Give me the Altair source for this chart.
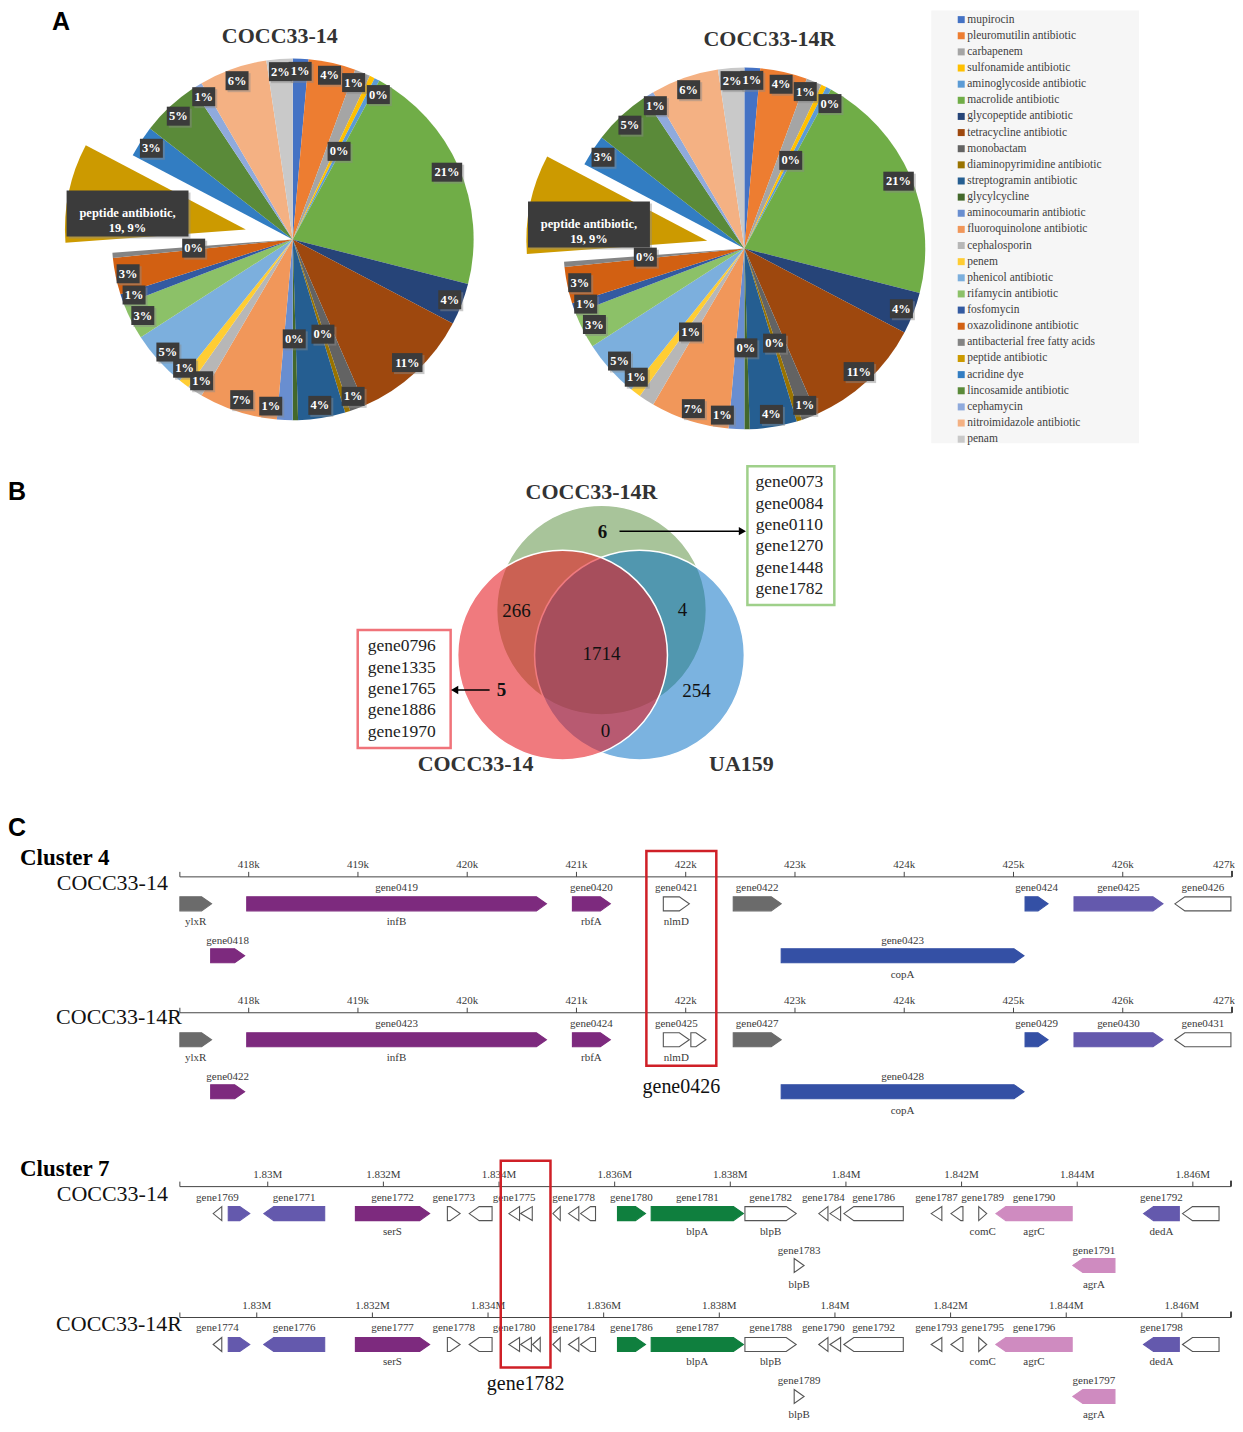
import math
import pandas as pd
import altair as alt

SERIF = "Liberation Serif"
SANS = "Liberation Sans"
INK = "#333333"
W_TOTAL = 1227

# ====================== Panel A data ======================
classes = ["mupirocin", "pleuromutilin antibiotic", "carbapenem", "sulfonamide antibiotic",
           "aminoglycoside antibiotic", "macrolide antibiotic", "glycopeptide antibiotic",
           "tetracycline antibiotic", "monobactam", "diaminopyrimidine antibiotic",
           "streptogramin antibiotic", "glycylcycline", "aminocoumarin antibiotic",
           "fluoroquinolone antibiotic", "cephalosporin", "penem", "phenicol antibiotic",
           "rifamycin antibiotic", "fosfomycin", "oxazolidinone antibiotic",
           "antibacterial free fatty acids", "peptide antibiotic", "acridine dye",
           "lincosamide antibiotic", "cephamycin", "nitroimidazole antibiotic", "penam"]
class_colors = ["#4472C4", "#ED7D31", "#A5A5A5", "#FFC000", "#5B9BD5", "#70AD47",
                "#264478", "#9E480E", "#636363", "#997300", "#255E91", "#43682B",
                "#698ED0", "#F1975A", "#B7B7B7", "#FFCD33", "#7CAFDD", "#8CC168",
                "#335AA1", "#D26012", "#848484", "#CC9A00", "#327DC2", "#5A8A39",
                "#8FAADC", "#F4B183", "#C9C9C9"]
counts_cocc33_14 = [3, 9, 3, 1, 1, 45, 8, 23, 3, 1, 9, 1, 3, 15, 3, 2, 11, 7, 2, 7, 1, 19, 6, 11, 2, 13, 5]
counts_cocc33_14R = [3, 9, 3, 1, 1, 45, 8, 23, 3, 1, 9, 1, 3, 15, 3, 2, 11, 7, 2, 7, 1, 19, 6, 11, 2, 13, 5]
pie_titles = ["COCC33-14", "COCC33-14R"]
exploded_class = "peptide antibiotic"

# ====================== Panel B data ======================
venn_sets = ["COCC33-14R", "UA159", "COCC33-14"]
# regions: 14R only, 14&14R, 14R&UA159, all three, 14 only, UA159 only, 14&UA159
venn_region_counts = [6, 266, 4, 1714, 5, 254, 0]
genes_only_14R = ["gene0073", "gene0084", "gene0110", "gene1270", "gene1448", "gene1782"]
genes_only_14 = ["gene0796", "gene1335", "gene1765", "gene1886", "gene1970"]

# ====================== Panel C data ======================
c4_ticks = [418000, 419000, 420000, 421000, 422000, 423000, 424000, 425000, 426000, 427000]
c4_tick_labels = ["418k", "419k", "420k", "421k", "422k", "423k", "424k", "425k", "426k", "427k"]

c4_14_names = ["", "gene0418", "gene0419", "gene0420", "gene0421", "gene0422", "gene0423", "gene0424", "gene0425", "gene0426"]
c4_14_symbols = ["ylxR", "", "infB", "rbfA", "nlmD", "", "copA", "", "", ""]
c4_14_start = [417370, 417652, 417982, 420963, 421795, 422435, 422874, 425106, 425554, 426477]
c4_14_end = [417660, 417963, 420725, 421310, 422033, 422874, 425096, 425316, 426368, 426990]
c4_14_strand = "+++++++++-"
c4_14_row = [1, 2, 1, 1, 1, 1, 2, 1, 1, 1]
c4_14_kind = ["grey", "purple", "purple", "purple", "white", "grey", "blue", "blue", "violet", "white"]

c4_14R_names = ["", "gene0422", "gene0423", "gene0424", "gene0425", "", "gene0427", "gene0428", "gene0429", "gene0430", "gene0431"]
c4_14R_symbols = ["ylxR", "", "infB", "rbfA", "nlmD", "", "", "copA", "", "", ""]
c4_14R_start = [417370, 417652, 417982, 420963, 421795, 422047, 422435, 422874, 425106, 425554, 426477]
c4_14R_end = [417660, 417963, 420725, 421310, 422033, 422185, 422874, 425096, 425316, 426368, 426990]
c4_14R_strand = "++++++++++-"
c4_14R_row = [1, 2, 1, 1, 1, 1, 1, 2, 1, 1, 1]
c4_14R_kind = ["grey", "purple", "purple", "purple", "white", "white", "grey", "blue", "blue", "violet", "white"]

c7_ticks = [1830000, 1832000, 1834000, 1836000, 1838000, 1840000, 1842000, 1844000, 1846000]
c7_tick_labels = ["1.83M", "1.832M", "1.834M", "1.836M", "1.838M", "1.84M", "1.842M", "1.844M", "1.846M"]

c7_14_names = ["gene1769", "", "gene1771", "gene1772", "gene1773", "", "gene1775", "", "", "gene1778", "",
               "gene1780", "gene1781", "gene1782", "gene1783", "gene1784", "", "gene1786", "gene1787", "",
               "gene1789", "gene1790", "gene1791", "gene1792", ""]
c7_14_symbols = ["", "", "", "serS", "", "", "", "", "", "", "", "", "blpA", "blpB", "blpB", "", "", "", "",
                 "", "comC", "agrC", "agrA", "dedA", ""]
c7_14_start = [1829056, 1829317, 1829931, 1831516, 1833107, 1833484, 1834170, 1834373, 1834931, 1835202,
               1835410, 1836049, 1836632, 1838253, 1839105, 1839530, 1839724, 1839964, 1841474, 1841816,
               1842297, 1842593, 1843925, 1845147, 1845821]
c7_14_end = [1829205, 1829689, 1830985, 1832800, 1833327, 1833880, 1834355, 1834575, 1835059, 1835380,
             1835669, 1836533, 1838227, 1839140, 1839276, 1839689, 1839908, 1840992, 1841659, 1842024,
             1842435, 1843913, 1844653, 1845766, 1846453]
c7_14_strand = "-+-++------++++-----+----"
c7_14_row = [1, 1, 1, 1, 1, 1, 1, 1, 1, 1, 1, 1, 1, 1, 2, 1, 1, 1, 1, 1, 1, 1, 2, 1, 1]
c7_14_kind = ["white", "violet", "violet", "purple", "white", "white", "white", "white", "white", "white",
              "white", "green", "green", "white", "white", "white", "white", "white", "white", "white",
              "white", "pink", "pink", "violet", "white"]

c7_14R_names = ["gene1774", "", "gene1776", "gene1777", "gene1778", "", "gene1780", "", "", "", "gene1784", "",
                "gene1786", "gene1787", "gene1788", "gene1789", "gene1790", "", "gene1792", "gene1793", "",
                "gene1795", "gene1796", "gene1797", "gene1798", ""]
c7_14R_symbols = ["", "", "", "serS", "", "", "", "", "", "", "", "", "", "blpA", "blpB", "blpB", "", "", "",
                  "", "", "comC", "agrC", "agrA", "dedA", ""]
c7_14R_start = [1829246, 1829507, 1830121, 1831706, 1833297, 1833674, 1834360, 1834563, 1834770, 1835121,
                1835392, 1835600, 1836239, 1836822, 1838443, 1839295, 1839720, 1839914, 1840154, 1841664,
                1842006, 1842487, 1842783, 1844115, 1845337, 1846011]
c7_14R_end = [1829395, 1829879, 1831175, 1832990, 1833517, 1834070, 1834545, 1834750, 1834903, 1835249,
              1835570, 1835859, 1836723, 1838417, 1839330, 1839466, 1839879, 1840098, 1841182, 1841849,
              1842214, 1842625, 1844103, 1844843, 1845956, 1846643]
c7_14R_strand = "-+-++-------++++-----+----"
c7_14R_row = [1, 1, 1, 1, 1, 1, 1, 1, 1, 1, 1, 1, 1, 1, 1, 2, 1, 1, 1, 1, 1, 1, 1, 2, 1, 1]
c7_14R_kind = ["white", "violet", "violet", "purple", "white", "white", "white", "white", "white", "white",
               "white", "white", "green", "green", "white", "white", "white", "white", "white", "white",
               "white", "white", "pink", "pink", "violet", "white"]

KIND_FILL = {"grey": "#6b6b6b", "purple": "#7d2a7e", "blue": "#3450a5", "violet": "#6459ad",
             "green": "#0f7f3e", "pink": "#cf8bc0", "white": "#ffffff"}

# ====================== Panel A chart (one layered row) ======================
H_A = 442
color_scale = alt.Scale(domain=classes, range=class_colors)
PIE_R = 181
LABEL_SHIFT_DEG = {"carbapenem": -1.5, "sulfonamide antibiotic": 4.5, "penem": 3.0,
                   "aminocoumarin antibiotic": 5.0, "peptide antibiotic": -4.0}
shift_expr = " : ".join(f"datum.cls == '{c}' ? {math.radians(d):.5f}"
                        for c, d in LABEL_SHIFT_DEG.items()) + " : 0"


def pie_layer(counts, title, cx, cy, explode, title_px, letter=None, inner_extra=()):
    R = PIE_R
    df = pd.DataFrame({"cls": classes, "n": counts, "k": list(range(len(classes)))})
    xs = alt.Scale(domain=[-cx, W_TOTAL - cx], nice=False, zero=False)
    ys = alt.Scale(domain=[-(H_A - cy), cy], nice=False, zero=False)
    extra = "[" + ",".join(f"'{c}'" for c in inner_extra) + "]"
    base = (
        alt.Chart(df)
        .transform_joinaggregate(tot="sum(n)")
        .transform_window(cum="sum(n)", sort=[alt.SortField("k", order="ascending")], frame=[None, 0])
        .transform_calculate(t1="2*PI*datum.cum/datum.tot")
        .transform_calculate(t0="2*PI*(datum.cum-datum.n)/datum.tot")
        .transform_calculate(mid="(datum.t0+datum.t1)/2")
        .transform_calculate(pep=f"datum.cls == '{exploded_class}'")
        .transform_calculate(pct="format(datum.n/datum.tot, '.0%')")
        .transform_calculate(ex=f"datum.pep ? {explode}*sin(datum.mid) : 0")
        .transform_calculate(ey=f"datum.pep ? {explode}*cos(datum.mid) : 0")
        .transform_calculate(inner=f"(datum.n <= 1 && datum.cls != 'sulfonamide antibiotic') || indexof({extra}, datum.cls) >= 0")
        .transform_calculate(lr=f"datum.pep ? {0.66 * R} : (datum.inner ? {0.55 * R} : {0.93 * R})")
        .transform_calculate(la=shift_expr)
        .transform_calculate(lab="datum.pep ? (datum.cls + ',\\n' + datum.n + ', ' + datum.pct) : datum.pct")
        .transform_calculate(bw="datum.pep ? 122 : 8 + 7.5*length(datum.pct)")
        .transform_calculate(bh="datum.pep ? 46 : 19")
        .transform_calculate(lx="datum.lr*sin(datum.mid + datum.la) + datum.ex")
        .transform_calculate(ly="datum.lr*cos(datum.mid + datum.la) + datum.ey")
        .transform_calculate(bx0="datum.lx - datum.bw/2")
        .transform_calculate(bx1="datum.lx + datum.bw/2")
        .transform_calculate(by0="datum.ly - datum.bh/2")
        .transform_calculate(by1="datum.ly + datum.bh/2")
    )
    arcs = base.mark_arc(outerRadius=R).encode(
        x=alt.X("ex:Q", scale=xs, axis=None),
        y=alt.Y("ey:Q", scale=ys, axis=None),
        theta=alt.Theta("t0:Q", scale=None, stack=False),
        theta2=alt.Theta2("t1:Q"),
        color=alt.Color("cls:N", scale=color_scale, legend=None),
    )
    shadow = base.mark_rect(color="#8a8a8a", opacity=0.45, xOffset=2, x2Offset=2, yOffset=2, y2Offset=2).encode(
        x=alt.X("bx0:Q", scale=xs, axis=None), x2="bx1:Q",
        y=alt.Y("by0:Q", scale=ys, axis=None), y2="by1:Q",
    )
    boxes = base.mark_rect(color="#3b3b3b").encode(
        x=alt.X("bx0:Q", scale=xs, axis=None), x2="bx1:Q",
        y=alt.Y("by0:Q", scale=ys, axis=None), y2="by1:Q",
    )
    labels = base.mark_text(font=SERIF, fontSize=12.5, fontWeight="bold", color="white",
                            lineBreak="\n", baseline="middle", align="center").encode(
        x=alt.X("lx:Q", scale=xs, axis=None),
        y=alt.Y("ly:Q", scale=ys, axis=None),
        text="lab:N",
    )
    ttl = alt.Chart(pd.DataFrame({"t": [title]})).mark_text(
        font=SERIF, fontSize=22, fontWeight="bold", color=INK, baseline="middle").encode(
        text="t:N", x=alt.value(title_px[0]), y=alt.value(title_px[1]))
    layers = [arcs, shadow, boxes, labels, ttl]
    if letter:
        layers.append(alt.Chart(pd.DataFrame({"t": [letter[0]]})).mark_text(
            font=SANS, fontSize=25, fontWeight="bold", color="black", align="left", baseline="middle").encode(
            text="t:N", x=alt.value(letter[1]), y=alt.value(letter[2])))
    return alt.layer(*layers)


pie1 = pie_layer(counts_cocc33_14, pie_titles[0], 285, 231, 48, (272, 27), ("A", 44, 13))
pie2 = pie_layer(counts_cocc33_14R, pie_titles[1], 737, 240, 38, (762, 30), inner_extra=("cephalosporin",))

LEG_X = 922
leg_df = pd.DataFrame({"cls": classes})
leg_y = alt.Y("cls:N", sort=classes, scale=alt.Scale(type="point", padding=0.684), axis=None)
leg_bg = alt.Chart(pd.DataFrame({"a": [0]})).mark_rect(color="#f6f6f6").encode(
    x=alt.value(LEG_X + 2), x2=alt.value(LEG_X + 210), y=alt.value(2), y2=alt.value(435))
leg_sq = alt.Chart(leg_df).mark_square(size=49, opacity=1).encode(
    y=leg_y, x=alt.value(LEG_X + 32), color=alt.Color("cls:N", scale=color_scale, legend=None))
leg_tx = alt.Chart(leg_df).mark_text(font=SERIF, fontSize=11.5, color="#404040", align="left",
                                     baseline="middle").encode(y=leg_y, x=alt.value(LEG_X + 38), text="cls:N")
legend = alt.layer(leg_bg, leg_sq, leg_tx)

row_a = alt.layer(pie1, pie2, legend).resolve_scale(x="independent", y="independent").properties(
    width=W_TOTAL, height=H_A)

# ====================== Panel B chart ======================
VENN_R = 105
VENN_CIRCLE = {"COCC33-14R": (602, 610, "#6e9d57", 0.60),
               "UA159": (640, 655, "#016dc3", 0.52),
               "COCC33-14": (563, 655, "#e51a21", 0.58)}
VENN_SET_LABEL_POS = {"COCC33-14R": (592, 492), "UA159": (742, 764), "COCC33-14": (476, 764)}
VENN_REGION_POS = [(603, 532), (517, 611), (683, 610), (602, 654), (502, 690), (697, 691), (606, 731)]
VENN_REGION_BOLD = [True, False, False, False, True, False, False]

vx = alt.Scale(domain=[8, 8 + W_TOTAL], nice=False, zero=False)
vy = alt.Scale(domain=[450, 790], reverse=True, nice=False, zero=False)


def txt(df, xs, ys, **mark):
    return alt.Chart(df).mark_text(**mark).encode(
        x=alt.X("x:Q", scale=xs, axis=None), y=alt.Y("y:Q", scale=ys, axis=None), text="t:N")


circ_df = pd.DataFrame([{"set": s, "cx": VENN_CIRCLE[s][0], "cy": VENN_CIRCLE[s][1],
                         "col": VENN_CIRCLE[s][2], "op": VENN_CIRCLE[s][3], "z": i}
                        for i, s in enumerate(venn_sets)])
circles = alt.Chart(circ_df).mark_circle(size=(2 * VENN_R) ** 2, opacity=1, stroke="white",
                                         strokeWidth=1.5).encode(
    x=alt.X("cx:Q", scale=vx, axis=None), y=alt.Y("cy:Q", scale=vy, axis=None),
    fill=alt.Fill("col:N", scale=None), fillOpacity=alt.FillOpacity("op:Q", scale=None),
    order=alt.Order("z:Q"))

set_lab = pd.DataFrame([{"t": s, "x": VENN_SET_LABEL_POS[s][0], "y": VENN_SET_LABEL_POS[s][1]} for s in venn_sets])
reg_df = pd.DataFrame([{"t": str(c), "x": p[0], "y": p[1], "b": b}
                       for c, p, b in zip(venn_region_counts, VENN_REGION_POS, VENN_REGION_BOLD)])
list14R = pd.DataFrame({"t": genes_only_14R, "x": [790] * len(genes_only_14R),
                        "y": [482 + 21.4 * i for i in range(len(genes_only_14R))]})
list14 = pd.DataFrame({"t": genes_only_14, "x": [402] * len(genes_only_14),
                       "y": [646 + 21.5 * i for i in range(len(genes_only_14))]})
box_df = pd.DataFrame({"x0": [748, 358], "x1": [835, 451], "y0": [466, 630], "y1": [605, 748],
                       "c": ["#9fd08a", "#f0737a"]})
boxes_v = alt.Chart(box_df).mark_rect(fillOpacity=0, strokeWidth=2.5).encode(
    x=alt.X("x0:Q", scale=vx, axis=None), x2="x1:Q", y=alt.Y("y0:Q", scale=vy, axis=None), y2="y1:Q",
    stroke=alt.Stroke("c:N", scale=None))
arrow_df = pd.DataFrame({"x0": [620, 458], "x1": [740, 490], "y": [531, 690]})
arrow_lines = alt.Chart(arrow_df).mark_rule(color="black", strokeWidth=1.5).encode(
    x=alt.X("x0:Q", scale=vx, axis=None), x2="x1:Q", y=alt.Y("y:Q", scale=vy, axis=None))
head_df = pd.DataFrame({"x": [743, 455], "y": [531, 690], "s": ["triangle-right", "triangle-left"]})
arrow_heads = alt.Chart(head_df).mark_point(filled=True, size=70, color="black", opacity=1).encode(
    x=alt.X("x:Q", scale=vx, axis=None), y=alt.Y("y:Q", scale=vy, axis=None),
    shape=alt.Shape("s:N", scale=None))

venn = alt.layer(
    circles, boxes_v, arrow_lines, arrow_heads,
    txt(set_lab, vx, vy, font=SERIF, fontSize=22, fontWeight="bold", color=INK, baseline="middle"),
    txt(reg_df[reg_df.b], vx, vy, font=SERIF, fontSize=19, fontWeight="bold", color="#111", baseline="middle"),
    txt(reg_df[~reg_df.b], vx, vy, font=SERIF, fontSize=19, color="#111", baseline="middle"),
    txt(list14R, vx, vy, font=SERIF, fontSize=17.5, color="#222", baseline="middle"),
    txt(list14, vx, vy, font=SERIF, fontSize=17.5, color="#222", baseline="middle"),
    txt(pd.DataFrame({"t": ["B"], "x": [8], "y": [492]}), vx, vy, font=SANS, fontSize=25,
        fontWeight="bold", color="black", align="left", baseline="middle"),
).properties(width=W_TOTAL, height=340)

# ====================== Panel C charts ======================


def track_scale(g0, g1, img_x0, img_x1):
    k = (img_x1 - img_x0) / (g1 - g0)
    return alt.Scale(domain=[g0 - (img_x0 - 8) / k, g1 + (8 + W_TOTAL - img_x1) / k], nice=False, zero=False), k


def track(xs, ys, A, g0, g1, head_bp, ticks, tick_labels, names, symbols, starts, ends, strands, rows, kinds, tag):
    axis_line = alt.Chart(pd.DataFrame({"g0": [g0], "g1": [g1], "A": [A]})).mark_rule(
        color="#444", strokeWidth=1).encode(
        x=alt.X("g0:Q", scale=xs, axis=None), x2="g1:Q", y=alt.Y("A:Q", scale=ys, axis=None))
    tdf = pd.DataFrame({"t": ticks, "lab": tick_labels, "ya": [A - 5] * len(ticks), "yb": [A] * len(ticks),
                        "yl": [A - 12] * len(ticks), "edge": [t >= g1 for t in ticks]})
    tick_rules = alt.Chart(tdf).mark_rule(color="#444", strokeWidth=1).encode(
        x=alt.X("t:Q", scale=xs, axis=None), y=alt.Y("ya:Q", scale=ys, axis=None), y2="yb:Q")
    edf = pd.DataFrame({"t": [g0, g1], "ya": [A - 5, A - 6], "yb": [A, A], "w": [1, 2]})
    end_rules = alt.Chart(edf).mark_rule(color="#444").encode(
        x=alt.X("t:Q", scale=xs, axis=None), y=alt.Y("ya:Q", scale=ys, axis=None), y2="yb:Q",
        strokeWidth=alt.StrokeWidth("w:Q", scale=None))
    tick_txt = alt.Chart(tdf[~tdf.edge]).mark_text(font=SERIF, fontSize=11, color="#3a3a3a",
                                                   baseline="middle").encode(
        x=alt.X("t:Q", scale=xs, axis=None), y=alt.Y("yl:Q", scale=ys, axis=None), text="lab:N")
    layers = [axis_line, tick_rules, end_rules, tick_txt]
    if tdf.edge.any():
        layers.append(alt.Chart(tdf[tdf.edge]).mark_text(font=SERIF, fontSize=11, color="#3a3a3a",
                                                         baseline="middle", align="right", dx=3).encode(
            x=alt.X("t:Q", scale=xs, axis=None), y=alt.Y("yl:Q", scale=ys, axis=None), text="lab:N"))

    pts, nm, sy = [], [], []
    for i in range(len(starts)):
        s, e = starts[i], ends[i]
        top = A + (20 if rows[i] == 1 else 72)
        bot, mid = top + 14, top + 7
        fill = KIND_FILL[kinds[i]]
        stroke = "#555555" if kinds[i] == "white" else fill
        long_gene = (e - s) > 1.2 * head_bp
        if strands[i] == "+":
            verts = [(s, top, bot)] + ([(e - head_bp, top, bot)] if long_gene else []) + [(e, mid, mid)]
        else:
            verts = [(s, mid, mid)] + ([(s + head_bp, top, bot)] if long_gene else []) + [(e, top, bot)]
        for gx, y1, y2 in verts:
            pts.append({"gid": f"{tag}{i}", "gx": gx, "gy": y1, "gy2": y2, "fill": fill, "stroke": stroke})
        if names[i]:
            nm.append({"x": (s + e) / 2, "y": A + (11 if rows[i] == 1 else 64), "t": names[i]})
        if symbols[i]:
            sy.append({"x": (s + e) / 2, "y": A + (45 if rows[i] == 1 else 98), "t": symbols[i]})
    genes = alt.Chart(pd.DataFrame(pts)).mark_area(orient="vertical", interpolate="linear", opacity=1,
                                                    strokeWidth=1.1).encode(
        x=alt.X("gx:Q", scale=xs, axis=None),
        y=alt.Y("gy:Q", scale=ys, axis=None, stack=False), y2="gy2:Q",
        detail="gid:N",
        fill=alt.Fill("fill:N", scale=None), stroke=alt.Stroke("stroke:N", scale=None))
    layers += [genes,
               txt(pd.DataFrame(nm), xs, ys, font=SERIF, fontSize=11, color="#3a3a3a", baseline="middle"),
               txt(pd.DataFrame(sy), xs, ys, font=SERIF, fontSize=11, color="#3a3a3a", baseline="middle")]
    return alt.layer(*layers)


def headers(ys, left_items, right_items):
    out = []
    for t, px, y, font, size, weight in left_items:
        out.append(alt.Chart(pd.DataFrame({"t": [t], "x": [px], "y": [y]})).mark_text(
            font=font, fontSize=size, fontWeight=weight, color="black", align="left", baseline="middle").encode(
            x=alt.X("x:Q", scale=None, axis=None), y=alt.Y("y:Q", scale=ys, axis=None), text="t:N"))
    rdf = pd.DataFrame(right_items, columns=["t", "x", "y"])
    out.append(alt.Chart(rdf).mark_text(font=SERIF, fontSize=22, color="#111", align="right",
                                        baseline="middle").encode(
        x=alt.X("x:Q", scale=None, axis=None), y=alt.Y("y:Q", scale=ys, axis=None), text="t:N"))
    return out


def red_box(xs, ys, gx0, gx1, y0, y1, label, label_y):
    b = alt.Chart(pd.DataFrame({"x0": [gx0], "x1": [gx1], "y0": [y0], "y1": [y1]})).mark_rect(
        fillOpacity=0, stroke="#cf2027", strokeWidth=2.5).encode(
        x=alt.X("x0:Q", scale=xs, axis=None), x2="x1:Q", y=alt.Y("y0:Q", scale=ys, axis=None), y2="y1:Q")
    t = txt(pd.DataFrame({"t": [label], "x": [(gx0 + gx1) / 2], "y": [label_y]}), xs, ys,
            font=SERIF, fontSize=20, color="#111", baseline="middle")
    return alt.layer(b, t)


# Cluster 4 (image rows 790..1120)
ys4 = alt.Scale(domain=[790, 1120], reverse=True, nice=False, zero=False)
xs4a, k4 = track_scale(417370, 427000, 180, 1233)
xs4b, _ = track_scale(417370, 427000, 180, 1233)
xs4c, _ = track_scale(417370, 427000, 180, 1233)
head4 = 10 / k4
t4a = track(xs4a, ys4, 877, 417370, 427000, head4, c4_ticks, c4_tick_labels, c4_14_names, c4_14_symbols,
            c4_14_start, c4_14_end, c4_14_strand, c4_14_row, c4_14_kind, "a")
t4b = track(xs4b, ys4, 1013, 417370, 427000, head4, c4_ticks, c4_tick_labels, c4_14R_names, c4_14R_symbols,
            c4_14R_start, c4_14R_end, c4_14R_strand, c4_14R_row, c4_14R_kind, "b")
box4 = red_box(xs4c, ys4, 421640, 422280, 851, 1066, "gene0426", 1087)
hdr4 = headers(ys4, [("C", 0, 828, SANS, 25, "bold"), ("Cluster 4", 12, 858, SERIF, 23, "bold")],
               [("COCC33-14", 160, 883), ("COCC33-14R", 174, 1017)])
cluster4 = alt.layer(t4a, t4b, box4, *hdr4).resolve_scale(x="independent").properties(width=W_TOTAL, height=330)

# Cluster 7 (image rows 1120..1422)
ys7 = alt.Scale(domain=[1120, 1422], reverse=True, nice=False, zero=False)
xs7a, k7 = track_scale(1828480, 1846660, 180, 1232)
xs7b, _ = track_scale(1828670, 1846850, 180, 1232)
xs7c, _ = track_scale(1828480, 1846660, 180, 1232)
head7 = 10 / k7
t7a = track(xs7a, ys7, 1187, 1828480, 1846660, head7, c7_ticks, c7_tick_labels, c7_14_names, c7_14_symbols,
            c7_14_start, c7_14_end, c7_14_strand, c7_14_row, c7_14_kind, "c")
t7b = track(xs7b, ys7, 1318, 1828670, 1846850, head7, c7_ticks, c7_tick_labels, c7_14R_names, c7_14R_symbols,
            c7_14R_start, c7_14R_end, c7_14R_strand, c7_14R_row, c7_14R_kind, "d")
box7 = red_box(xs7c, ys7, 1834030, 1834890, 1161, 1368, "gene1782", 1385)
hdr7 = headers(ys7, [("Cluster 7", 12, 1169, SERIF, 23, "bold")],
               [("COCC33-14", 160, 1194), ("COCC33-14R", 174, 1325)])
cluster7 = alt.layer(t7a, t7b, box7, *hdr7).resolve_scale(x="independent").properties(width=W_TOTAL, height=302)

chart = alt.vconcat(row_a, venn, cluster4, cluster7, spacing=0, bounds="flush").properties(
    padding=0).configure_view(stroke=None)

chart.save("out.html", embed_options={"renderer": "svg", "actions": False})
